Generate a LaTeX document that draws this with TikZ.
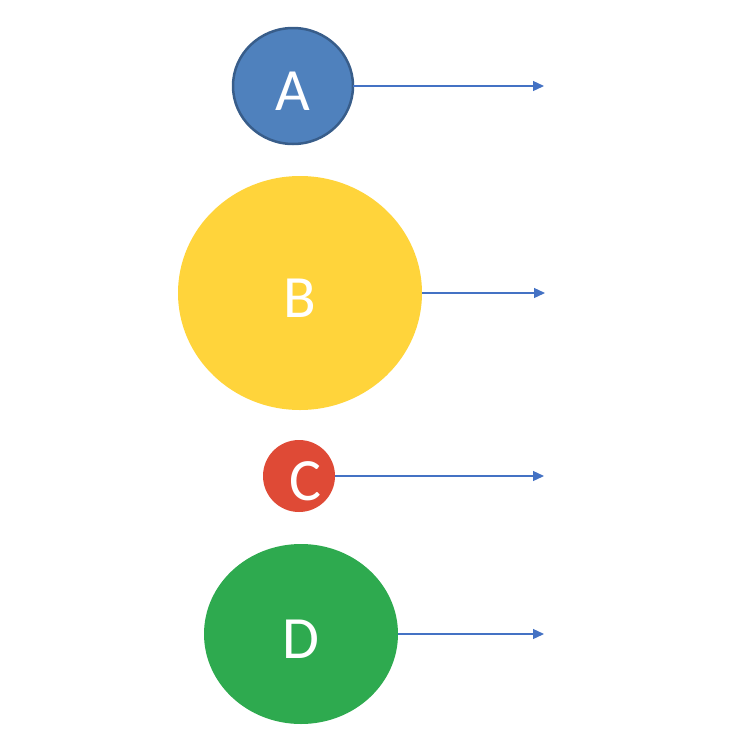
\documentclass[tikz,border=0pt]{standalone}
\usepackage{fontspec}
\setmainfont{Carlito}
\usetikzlibrary{arrows.meta,shapes.geometric}
\definecolor{cA}{HTML}{4F81BD}
\definecolor{cAb}{HTML}{385D8A}
\definecolor{cB}{HTML}{FFD43B}
\definecolor{cC}{HTML}{DF4A36}
\definecolor{cD}{HTML}{2EAA4F}
\definecolor{arr}{HTML}{4472C4}
\newcommand{\lowtxt}[1]{\raisebox{-5pt}[\height][\depth]{#1}}
\begin{document}
\begin{tikzpicture}[x=1pt,y=-1pt,
  blob/.style={ellipse,inner sep=0pt,outer sep=0pt,text=white,font=\fontsize{60}{60}\selectfont},
  link/.style={draw=arr,line width=1.3pt,-{Triangle[length=11pt,width=10pt]}}]
\useasboundingbox (0,0) rectangle (750,750);
\node[blob,fill=cA,draw=cAb,line width=2.5pt,minimum width=120pt,minimum height=116pt] (A) at (293,86) {\lowtxt{A}};
\coordinate (At) at (544,86);
\node[blob,fill=cB,minimum width=244pt,minimum height=234pt] (B) at (300,293) {\lowtxt{B}};
\coordinate (Bt) at (545,293);
\node[blob,fill=cC,minimum width=72pt,minimum height=72pt] (C) at (299,476) {\hspace{12pt}\lowtxt{C}};
\coordinate (Ct) at (544,476);
\node[blob,fill=cD,minimum width=194pt,minimum height=180pt] (D) at (301,634) {\lowtxt{D}};
\coordinate (Dt) at (544,634);
\draw[link] (A.east) -- (At);
\draw[link] (B.east) -- (Bt);
\draw[link] (C.east) -- (Ct);
\draw[link] (D.east) -- (Dt);
\end{tikzpicture}
\end{document}
